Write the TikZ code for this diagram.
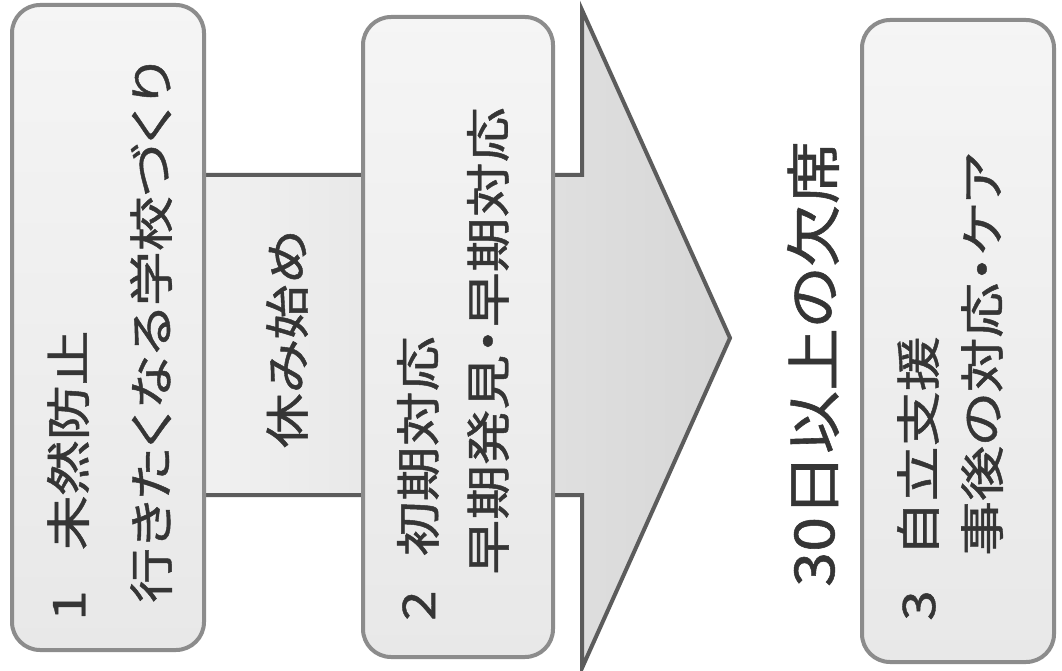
\documentclass[tikz,border=0pt]{standalone}
\usepackage{fontspec}
\newfontfamily\jp[RawFeature=+palt,FakeBold=0.9]{Noto Sans CJK JP}
\definecolor{boxline}{HTML}{8C8C8C}
\definecolor{arrowline}{HTML}{5C5C5C}
\definecolor{txt}{HTML}{353535}
\begin{document}
\begin{tikzpicture}[x=1pt,y=-1pt,
  stepbox/.style={draw=boxline, line width=4pt, rounded corners=28pt,
    top color=gray!8, bottom color=gray!18, inner sep=0pt},
  bigarrow/.style={draw=arrowline, line width=4pt, line join=miter,
    left color=gray!9, right color=gray!32},
  lbl/.style={rotate=90, anchor=west, inner sep=0pt, text=txt,
    font=\jp\fontsize{55}{60}\selectfont},
  title/.style={rotate=90, anchor=center, inner sep=0pt, text=txt,
    font=\jp\fontsize{63}{68}\selectfont},
]
\useasboundingbox (0,0) rectangle (1062,671);
\fill[white] (0,0) rectangle (1062,671);

% big arrow behind the boxes
\draw[bigarrow] (150,175) -- (582,175) -- (582,10) -- (730,338)
  -- (582,668) -- (582,495) -- (150,495) -- cycle;

% boxes
\node[stepbox, minimum width=192pt, minimum height=645pt] (b1) at (108,327.5) {};
\node[stepbox, minimum width=190pt, minimum height=640pt] (b2) at (458,337) {};
\node[stepbox, minimum width=192pt, minimum height=642pt] (b3) at (958,341) {};

% texts
\node[lbl] (t1a) at (68,621) {\scalebox{1}[0.82]{1\hspace{40pt}未然防止}};
\node[lbl] (t1b) at (151,603) {\scalebox{1}[0.82]{行きたくなる学校づくり}};
\node[lbl, anchor=center] (rest) at (287,339) {\scalebox{1}[0.82]{休み始め}};
\node[lbl] (t2a) at (418,621) {\scalebox{1}[0.82]{2\hspace{34pt}初期対応}};
\node[lbl] (t2b) at (488,575) {\scalebox{1}[0.82]{早期発見・早期対応}};
\node[title] (abs) at (813,364) {\scalebox{1}[0.88]{30日以上の欠席}};
\node[lbl] (t3a) at (918,621) {\scalebox{1}[0.82]{3\hspace{34pt}自立支援}};
\node[lbl] (t3b) at (982,556) {\scalebox{1}[0.82]{事後の対応・ケア}};
\end{tikzpicture}
\end{document}
